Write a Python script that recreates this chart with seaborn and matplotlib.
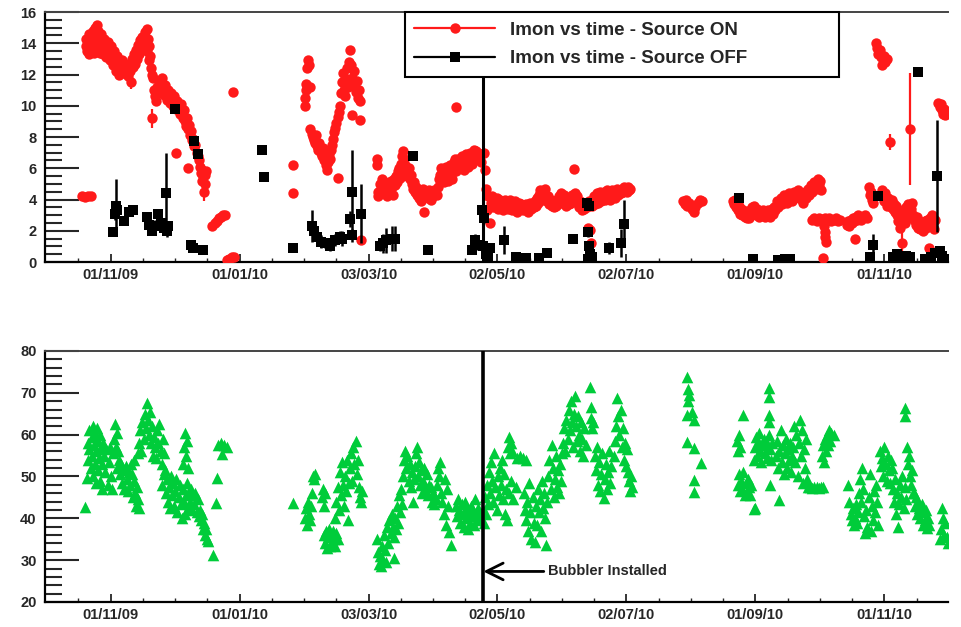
import numpy as np
import pandas as pd
import matplotlib
matplotlib.use("Agg")
import matplotlib.pyplot as plt
import matplotlib.dates as mdates
from matplotlib.ticker import FixedLocator, MultipleLocator
from matplotlib.lines import Line2D
import seaborn as sns

# ---------------- data (x = days since 2009-10-01) ----------------
START = pd.Timestamp("2009-10-01")
x_tick_dates = ["2009-11-01", "2010-01-01", "2010-03-03", "2010-05-02",
                "2010-07-02", "2010-09-01", "2010-11-01"]
x_limits = ["2009-10-01", "2010-12-01"]
bubbler_day = 206.5
legend_labels = ["Imon vs time - Source ON", "Imon vs time - Source OFF"]
annotation_text = "Bubbler Installed"

# Source ON: (day, Imon, error)
on_points = [
    (17.5, 4.2, 0), (19, 4.15, 0), (20.5, 4.2, 0), (21.5, 4.2, 0),
    (19.5, 13.8, 0), (19.5, 14.3, 0), (20, 13.5, 0), (20.5, 14.0, 0), (21, 14.6, 0), (21, 13.3, 0),
    (21.5, 13.9, 0), (22, 14.4, 0), (22, 13.6, 0), (22.5, 14.8, 0), (23, 14.2, 0), (23, 13.4, 0),
    (23.5, 15.0, 0), (24, 14.5, 0), (24, 13.7, 0), (24.5, 15.2, 0), (25, 14.8, 0), (25, 13.9, 0),
    (25.5, 14.3, 0), (26, 13.4, 0), (26.5, 14.6, 0), (27, 14.0, 0), (27.5, 13.3, 0), (28, 14.3, 0),
    (28.5, 13.7, 0), (29, 13.1, 0), (29.5, 14.1, 0), (30, 13.5, 0), (30.5, 12.9, 0), (31, 13.8, 0),
    (31.5, 13.2, 0), (32, 12.6, 0), (32.5, 13.5, 0), (33, 12.9, 0), (33.5, 12.2, 0), (34, 13.2, 0),
    (34.5, 12.6, 0), (35, 12.0, 0), (35.5, 12.8, 0), (36, 12.3, 0), (36.5, 12.9, 0), (37, 12.4, 0),
    (37.5, 12.1, 0), (38, 12.6, 0), (38.5, 12.3, 0), (39, 11.9, 0), (39.5, 12.7, 0), (40, 12.2, 0),
    (40.5, 11.5, 0.4), (41, 13.0, 0), (41.5, 12.5, 0), (42, 13.3, 0), (42.5, 12.7, 0), (43, 13.6, 0),
    (43.5, 13.0, 0), (44, 13.9, 0), (44.5, 13.3, 0), (45, 14.2, 0), (45.5, 13.6, 0), (46, 14.4, 0),
    (46.5, 13.8, 0), (47, 14.7, 0), (47.5, 14.0, 0), (48, 14.9, 0), (48, 13.5, 0), (48.5, 14.3, 0),
    (49, 13.8, 0), (49, 12.9, 0), (49.5, 13.2, 0), (50, 12.4, 0), (50.5, 12.0, 0), (51, 11.8, 0),
    (50.5, 9.2, 0.6), (51.5, 11.0, 0), (52, 10.6, 0), (52.5, 10.3, 0), (53, 11.2, 0), (53.5, 10.8, 0),
    (54, 11.6, 0), (54.5, 10.9, 0), (55, 11.8, 0), (55.5, 11.2, 0), (56, 10.7, 0), (56.5, 11.3, 0),
    (57, 10.8, 0), (57.5, 10.4, 0), (58, 11.0, 0), (58.5, 10.6, 0), (59, 10.2, 0), (59.5, 10.8, 0),
    (60, 10.5, 0), (60.5, 10.0, 0), (61, 10.6, 0), (61.5, 10.2, 0), (62, 9.8, 0), (62, 7.0, 0),
    (62.5, 10.3, 0), (63, 9.9, 0), (63.5, 9.5, 0), (64, 10.1, 0), (64.5, 9.6, 0), (65, 9.2, 0),
    (65.5, 9.7, 0), (66, 9.0, 0), (66.5, 8.7, 0), (67, 9.2, 0), (67.5, 6.0, 0), (67.5, 8.5, 0),
    (68, 8.8, 0), (68.5, 8.1, 0), (69, 8.4, 0), (69.5, 7.8, 0), (70, 7.9, 0), (70.5, 7.4, 0),
    (71, 7.5, 0), (71.5, 7.0, 0), (72, 6.8, 0), (72.5, 6.5, 0), (73, 6.1, 0), (73.5, 5.7, 0),
    (74, 5.9, 0), (74, 5.2, 0), (74.5, 5.5, 0), (75, 4.5, 0.6), (75.5, 5.6, 0), (75.5, 5.0, 0), (76, 5.8, 0),
    (79, 2.3, 0), (80, 2.5, 0), (81, 2.6, 0), (82, 2.8, 0), (83, 2.9, 0), (84, 3.0, 0), (85, 3.0, 0),
    (86, 0.1, 0), (87, 0.2, 0), (88, 0.3, 0), (89, 0.3, 0), (88.5, 10.9, 0),
    (117, 6.2, 0), (117, 4.4, 0),
    (122.5, 10.0, 0), (122.5, 10.5, 0), (123, 11.0, 0), (123, 11.4, 0), (123.5, 12.4, 0), (124, 12.9, 0),
    (124.5, 12.6, 0), (125, 11.2, 0), (125, 8.5, 0), (126, 8.2, 0), (126.5, 8.0, 0), (127, 7.8, 0),
    (127.5, 7.6, 0), (128, 8.1, 0), (128.5, 7.4, 0), (129, 7.2, 0), (129.5, 7.6, 0), (130, 7.0, 0),
    (130.5, 6.8, 0), (131, 7.3, 0), (131.5, 6.5, 0), (132, 6.8, 0), (132.5, 6.2, 0), (133, 5.9, 0),
    (133.5, 6.4, 0), (134, 6.9, 0), (134.5, 6.6, 0), (135, 7.2, 0), (135.5, 7.5, 0), (136, 7.9, 0),
    (136.5, 8.3, 0), (137, 8.6, 0), (137.5, 8.9, 0), (138, 9.3, 0), (138, 5.4, 0), (138.5, 9.6, 0),
    (139, 10.0, 0), (139.5, 10.8, 0), (140, 11.5, 0), (140.5, 12.1, 0), (141, 11.0, 0), (141.5, 10.6, 0),
    (142, 11.7, 0), (142.5, 12.4, 0), (143, 11.2, 0), (143.5, 12.8, 0), (144, 13.6, 0), (144.5, 12.6, 0),
    (145, 11.8, 0), (145, 9.4, 0), (145.5, 11.3, 0), (146, 12.2, 0), (146.5, 10.9, 0), (147, 11.6, 0),
    (147.5, 10.5, 0), (148, 11.0, 0), (148.5, 10.3, 0), (148.6, 9.1, 0), (149, 1.4, 0),
    (156.5, 6.6, 0), (156.5, 6.2, 0), (157, 4.5, 0), (157, 4.2, 0), (158, 5.0, 0), (158.5, 4.6, 0),
    (159, 5.3, 0), (159.5, 4.8, 0), (160, 4.4, 0), (160.5, 5.1, 0), (161, 4.7, 0), (161.5, 4.2, 0),
    (162, 5.0, 0), (162.5, 4.6, 0), (163, 5.2, 0), (163.5, 4.8, 0), (164, 4.3, 0), (164.5, 5.3, 0),
    (165, 4.9, 0), (165.5, 5.5, 0), (166, 5.1, 0), (166.5, 5.8, 0), (167, 6.0, 0), (167.5, 5.4, 0),
    (168, 6.3, 0), (168.5, 6.8, 0), (169, 7.1, 0), (169.5, 6.6, 0), (170, 6.2, 0), (170.5, 5.8, 0),
    (171, 5.5, 0), (171.5, 6.0, 0), (172, 5.3, 0), (172.5, 5.6, 0), (173, 5.0, 0), (173.5, 4.7, 0),
    (174, 5.1, 0), (174.5, 4.5, 0), (175, 4.8, 0), (175.5, 4.3, 0), (176, 4.6, 0), (176.5, 4.1, 0),
    (177, 4.5, 0), (177.5, 3.9, 0), (178, 4.3, 0), (178.5, 4.7, 0), (179, 3.2, 0), (179.5, 4.2, 0),
    (180, 4.5, 0), (180.5, 4.1, 0), (181, 4.6, 0), (181.5, 4.3, 0), (182, 4.0, 0), (182.5, 4.5, 0),
    (183, 4.2, 0), (183.5, 4.6, 0), (184, 4.4, 0), (185, 4.3, 0), (185.5, 4.8, 0), (186, 5.3, 0),
    (186.5, 5.6, 0), (187, 6.0, 0), (187.5, 5.4, 0), (188, 5.1, 0), (188.5, 5.7, 0), (189, 6.1, 0),
    (189.5, 5.5, 0), (190, 5.2, 0), (190.5, 5.8, 0), (191, 6.2, 0), (191.5, 5.6, 0), (192, 5.3, 0),
    (192.5, 5.9, 0), (193, 6.4, 0), (193.4, 6.6, 0), (193.8, 9.9, 0), (194, 5.8, 0), (194.5, 6.2, 0),
    (195, 6.6, 0), (195.5, 6.0, 0), (196, 6.4, 0), (196.5, 6.8, 0), (197, 6.2, 0), (197.5, 5.9, 0),
    (198, 6.5, 0), (198.5, 6.9, 0), (199, 6.4, 0), (199.5, 6.1, 0), (200, 6.7, 0), (200.5, 7.0, 0),
    (201, 6.6, 0), (201.5, 6.3, 0), (202, 6.9, 0), (202.5, 7.2, 0), (203, 6.8, 0), (203.5, 7.1, 0),
    (204, 6.6, 0), (204.5, 7.0, 0), (205, 6.8, 0), (205.5, 6.4, 0),
    (207, 7.0, 0), (207.5, 5.9, 0), (208, 4.7, 0), (208.5, 3.3, 0), (209, 4.2, 0), (210, 2.5, 0),
    (210.5, 3.8, 0), (211, 4.2, 0), (211.5, 3.5, 0), (212, 3.9, 0), (212.5, 3.6, 0), (213, 4.1, 0),
    (213.5, 3.4, 0), (214, 3.8, 0), (214.5, 4.0, 0), (215, 3.5, 0), (215.5, 3.9, 0), (216, 3.3, 0),
    (216.5, 3.7, 0), (217, 4.0, 0), (217.5, 3.6, 0), (218, 3.9, 0), (218.5, 3.4, 0), (219, 3.8, 0),
    (219.5, 4.0, 0), (220, 3.6, 0), (220.5, 3.3, 0), (221, 3.7, 0), (221.5, 3.9, 0), (222, 3.5, 0),
    (222.5, 3.2, 0), (223, 3.6, 0), (223.5, 3.8, 0), (224, 3.4, 0), (224.5, 3.7, 0), (225, 3.5, 0),
    (225.5, 3.3, 0), (226, 3.6, 0), (226.5, 3.4, 0), (227, 3.7, 0), (227.5, 3.5, 0), (228, 3.2, 0),
    (228.5, 3.6, 0), (229, 3.8, 0), (229.5, 3.4, 0), (230, 3.7, 0), (230.5, 3.5, 0), (231, 3.9, 0),
    (231.5, 3.6, 0), (232, 4.1, 0), (232.5, 3.8, 0), (233, 4.3, 0), (233.5, 4.6, 0), (234, 4.2, 0),
    (234.5, 4.5, 0), (235, 4.0, 0), (235.5, 4.4, 0), (236, 4.7, 0), (236.5, 4.1, 0), (237, 3.9, 0),
    (237.5, 4.2, 0), (238, 3.7, 0), (238.5, 4.0, 0), (239, 3.6, 0), (239.5, 3.9, 0), (240, 3.5, 0),
    (240.5, 3.8, 0), (241, 3.6, 0), (241.5, 4.0, 0), (242, 3.7, 0), (242.5, 4.2, 0), (243, 3.9, 0),
    (243.5, 4.4, 0), (244, 4.1, 0), (244.5, 3.8, 0), (245, 4.3, 0), (245.5, 3.9, 0), (246, 3.6, 0),
    (246.5, 4.0, 0), (247, 3.7, 0), (247.5, 4.1, 0), (248, 3.8, 0), (248.5, 4.3, 0), (249, 4.0, 0),
    (249.5, 5.95, 0), (250, 4.4, 0), (250.5, 3.9, 0), (251, 4.2, 0), (251.5, 3.8, 0), (252, 3.5, 0),
    (252.5, 3.9, 0), (253, 3.6, 0), (253.5, 3.3, 0), (254, 3.7, 0), (254.5, 3.4, 0), (255, 3.8, 0),
    (255.5, 3.5, 0), (256, 2.2, 0), (256.5, 3.9, 0), (257, 2.05, 0), (257.5, 1.2, 0), (258, 3.6, 0),
    (258.5, 3.9, 0), (259, 4.2, 0), (259.5, 3.7, 0), (260, 4.0, 0), (260.5, 4.4, 0), (261, 3.8, 0),
    (261.5, 4.1, 0), (262, 4.5, 0), (262.5, 3.9, 0), (263, 4.2, 0), (263.5, 4.5, 0), (264, 4.0, 0),
    (264.5, 4.3, 0), (265, 4.6, 0), (265.5, 4.1, 0), (266, 4.4, 0), (266.5, 4.0, 0), (267, 4.3, 0),
    (267.5, 4.6, 0), (268, 4.2, 0), (268.5, 4.5, 0), (269, 4.1, 0), (269.5, 4.4, 0), (270, 4.7, 0),
    (270.5, 4.3, 0), (271, 4.6, 0), (271.5, 4.4, 0), (272, 4.7, 0), (272.5, 4.5, 0), (273, 4.8, 0),
    (273.5, 4.6, 0), (274, 4.7, 0), (274.5, 4.5, 0), (275, 4.8, 0), (275.5, 4.6, 0), (276, 4.7, 0),
    (301, 3.9, 0), (302, 3.7, 0), (302.5, 4.0, 0), (303, 3.6, 0), (304, 3.8, 0), (305, 3.4, 0),
    (305.5, 3.6, 0), (306, 3.2, 0), (306.5, 3.5, 0), (308, 3.8, 0), (309, 4.0, 0), (310, 3.9, 0),
    (324.5, 3.9, 0), (325, 3.7, 0), (325.5, 4.0, 0), (326, 3.5, 0), (326.5, 3.8, 0), (327, 3.3, 0),
    (327.5, 3.6, 0), (328, 3.1, 0), (328.5, 3.4, 0), (329, 3.0, 0), (329.5, 3.3, 0), (330, 2.9, 0),
    (330.5, 3.2, 0), (331, 2.8, 0), (331.5, 3.1, 0), (332, 2.8, 0), (332.5, 3.3, 0), (333, 3.0, 0),
    (333.5, 3.5, 0), (334, 3.2, 0), (334.5, 3.6, 0), (335, 3.3, 0), (335.5, 3.0, 0), (336, 3.4, 0),
    (336.5, 3.1, 0), (337, 2.9, 0), (337.5, 3.2, 0), (338, 3.0, 0), (338.5, 3.3, 0), (339, 3.1, 0),
    (339.5, 2.9, 0), (340, 3.2, 0), (340.5, 3.0, 0), (341, 3.3, 0), (341.5, 3.1, 0), (342, 2.9, 0),
    (342.5, 3.2, 0), (343, 3.4, 0), (343.5, 3.1, 0), (344, 3.5, 0), (344.5, 3.3, 0), (345, 3.6, 0),
    (345.5, 3.9, 0), (346, 3.5, 0), (346.5, 3.8, 0), (347, 4.1, 0), (347.5, 3.7, 0), (348, 4.0, 0),
    (348.5, 4.3, 0), (349, 3.9, 0), (349.5, 4.2, 0), (350, 3.8, 0), (350.5, 4.1, 0), (351, 4.4, 0),
    (351.5, 4.0, 0), (352, 4.3, 0), (352.5, 3.9, 0), (353, 4.2, 0), (353.5, 4.5, 0), (354, 4.1, 0),
    (354.5, 4.4, 0), (355, 4.6, 0), (355.5, 4.3, 0), (356, 4.1, 0), (356.5, 4.4, 0), (357, 4.0, 0),
    (357.5, 3.8, 0), (358, 4.2, 0), (358.5, 4.5, 0), (359, 4.1, 0), (359.5, 4.4, 0), (360, 4.7, 0),
    (360.5, 4.3, 0), (361, 4.6, 0), (361.5, 4.9, 0), (362, 4.5, 0), (362.5, 4.8, 0), (363, 5.1, 0),
    (363.5, 4.7, 0), (364, 5.0, 0), (364.5, 5.3, 0), (365, 4.9, 0), (365.5, 5.2, 0), (366, 4.6, 0),
    (362, 2.7, 0), (363, 2.8, 0), (364, 2.6, 0), (365, 2.8, 0), (366, 2.7, 0), (367, 2.6, 0),
    (368, 2.8, 0), (369, 2.7, 0), (370, 2.8, 0), (371, 2.6, 0), (372, 2.7, 0), (373, 2.8, 0),
    (374, 2.6, 0), (375, 2.7, 0), (367.5, 2.3, 0), (367.8, 1.9, 0), (368, 1.6, 0), (368.3, 1.3, 0),
    (367, 0.25, 0),
    (378.5, 2.4, 0), (379, 2.6, 0), (379.5, 2.3, 0), (380, 2.7, 0), (380.5, 2.5, 0), (381, 2.8, 0),
    (381.5, 2.6, 0), (382, 1.5, 0), (382.5, 2.9, 0), (383, 2.7, 0), (383.5, 3.0, 0), (384, 2.8, 0),
    (384.5, 2.9, 0), (385, 2.7, 0), (386, 2.9, 0), (387, 3.0, 0), (388, 2.8, 0),
    (388.5, 4.8, 0), (389, 4.3, 0), (389.5, 4.5, 0), (390, 4.0, 0), (390.5, 3.8, 0),
    (392, 14.0, 0), (392.5, 13.7, 0), (393, 13.3, 0), (394, 13.6, 0), (394.5, 13.1, 0), (395, 12.6, 0),
    (396, 13.2, 0), (396.5, 12.8, 0), (397, 13.0, 0),
    (395, 4.6, 0), (395.5, 4.2, 0), (396, 3.9, 0), (396.5, 4.4, 0), (397, 3.6, 0), (397.5, 4.1, 0),
    (398, 3.8, 0), (398.5, 7.7, 0.5), (399, 3.5, 0), (399.5, 4.0, 0), (400, 3.4, 0), (400.5, 3.7, 0),
    (401, 3.2, 0), (401.5, 3.6, 0), (402, 3.0, 0), (402.5, 2.6, 0), (403, 3.3, 0), (403.5, 2.2, 0),
    (404, 2.8, 0), (404.5, 1.2, 0.9), (405, 3.1, 0), (405.5, 2.5, 0), (406, 3.5, 0), (406.5, 2.9, 0),
    (407, 3.7, 0), (407.5, 3.2, 0), (408, 8.5, 3.6), (408.5, 3.4, 0), (409, 3.8, 0), (409.5, 3.0, 0),
    (410, 2.7, 0), (411, 2.4, 0), (411.5, 2.9, 0), (412, 2.2, 0), (412.5, 2.6, 0), (413, 2.1, 0),
    (413.5, 2.5, 0), (414, 2.0, 0), (414.5, 2.4, 0), (415, 2.6, 0), (415.5, 2.2, 0), (416, 2.7, 0),
    (416.5, 2.3, 0), (417, 0.9, 0), (417.5, 2.8, 0), (418, 2.5, 0), (418.5, 3.0, 0), (419, 2.6, 0),
    (419.5, 2.1, 0), (420, 2.7, 0),
    (421.5, 10.2, 0), (422, 9.9, 0), (422.5, 10.1, 0), (423, 9.7, 0), (423.5, 9.5, 0), (424, 9.8, 0),
    (424.5, 9.4, 0), (425, 9.6, 0),
]

# Source OFF: (day, Imon, error)
off_points = [
    (32, 1.9, 0), (33.5, 3.6, 1.7), (33, 3.1, 0.4), (34, 3.3, 0.5), (37.5, 2.6, 0), (39.5, 3.2, 0),
    (41.5, 3.3, 0), (48, 2.9, 0.3), (49, 2.4, 0.3), (50.5, 2.0, 0.3), (52, 2.3, 0.4), (53.5, 3.1, 0),
    (54.5, 2.5, 0.4), (56, 2.2, 0.5), (57, 4.4, 2.6), (57.5, 2.0, 0.4), (58, 2.3, 0.3),
    (61.5, 9.8, 0), (70.5, 7.75, 0), (72, 6.9, 0), (69, 1.1, 0.3), (70, 0.9, 0.2), (74.5, 0.75, 0),
    (102.5, 7.2, 0), (103.5, 5.45, 0), (117, 0.9, 0),
    (126, 2.3, 1.0), (127, 2.0, 0.5), (128.5, 1.6, 0.5), (130, 1.3, 0.4), (132, 1.2, 0.3),
    (134.5, 1.0, 0.3), (137, 1.4, 0.4), (139, 1.6, 0.4), (140, 1.5, 0.5), (144, 2.75, 0.5),
    (145, 1.7, 0.4), (145, 4.5, 2.7), (149, 3.1, 1.9),
    (158, 1.0, 0.3), (159.5, 1.2, 0.6), (161, 1.4, 0.8), (163.5, 1.5, 0.8), (165, 1.5, 0.8),
    (173.5, 6.8, 0), (180.5, 0.75, 0), (201.5, 0.8, 0), (203, 1.4, 0.4), (204, 1.1, 0.3),
    (206, 3.3, 0.3), (207, 2.8, 0.3), (206.5, 1.0, 0.4), (208, 0.5, 0), (209, 0.3, 0), (210, 0.9, 0.3),
    (216.5, 1.4, 0.9), (222, 0.3, 0), (227, 0.25, 0), (233, 0.25, 0), (237, 0.6, 0.2), (249, 1.5, 0),
    (255.5, 3.8, 0), (256.5, 3.6, 0), (256, 1.9, 0.3), (256.5, 1.0, 0.3), (257, 0.5, 0), (256, 0.2, 0),
    (258, 0.3, 0), (266, 0.9, 0.4), (271.5, 1.2, 0.9), (273, 2.45, 1.5),
    (327.5, 4.1, 0), (334, 0.2, 0), (346, 0.1, 0), (349, 0.2, 0), (351.5, 0.2, 0),
    (389, 0.3, 0), (390.5, 1.1, 0.7), (393, 4.2, 0), (400, 0.3, 0), (402, 0.5, 0), (404, 0.2, 0),
    (406, 0.4, 0), (408, 0.3, 0), (412, 12.15, 0), (415, 0.2, 0), (418, 0.3, 0), (420, 0.6, 0.3),
    (421, 5.5, 3.6), (422, 0.7, 0.3), (423, 0.4, 0), (424, 0.2, 0),
]

# bottom panel series: (day, value)
gas_points = [
    (18.9, 42.7), (19.8, 49.6), (20.5, 58), (20.5, 54), (21, 61), (21, 56.5), (21.5, 52), (22, 59.5),
    (22, 55), (22.5, 62), (22.5, 50), (23, 57.5), (23.5, 60.5), (23.5, 53), (24, 48.5), (24, 56),
    (24.5, 61.5), (25, 58.5), (25, 51.5), (25.5, 54.5), (26, 60), (26, 49), (26.5, 56.5), (27, 53),
    (27, 47), (27.5, 58), (28, 55), (28.5, 51), (29, 56.5), (29.5, 48), (30, 53.5), (30.5, 57),
    (31, 50), (31.5, 47), (32, 55.5), (32.5, 59), (33, 62.5), (33.5, 57), (34, 60.5), (34.5, 56),
    (34, 52), (35, 54), (35.5, 50.5), (36, 53), (36.5, 48.5), (37, 51.5), (37.5, 47), (38, 52.5),
    (38.5, 49.5), (39, 46.5), (39.5, 51), (40, 48), (40.5, 53), (41, 50.5), (41.5, 45), (42, 49),
    (42.5, 46), (43, 43), (43.5, 47.5), (44, 44.5), (44.5, 42.5), (42, 54),
    (44, 55.5), (44.5, 58), (45, 61), (45.5, 56), (46, 63), (46.5, 59), (47, 65), (47.5, 61.5),
    (48, 67.5), (48.5, 63.5), (49, 60), (49.5, 65.5), (50, 58), (50.5, 62),
    (51, 55), (51.5, 59.5), (52, 57), (52.5, 54.5), (53, 61), (53.5, 58), (54, 62.5), (54.5, 56),
    (55, 53), (55.5, 59), (56, 55.5), (56.5, 51.5),
    (55, 48), (56, 50.5), (57, 46), (57.5, 49.5), (58, 44), (58.5, 47.5), (59, 42.5), (59.5, 50),
    (60, 45.5), (60.5, 48.5), (61, 43), (61.5, 46.5), (62, 49.5), (62.5, 41.5), (63, 45), (63.5, 48),
    (64, 43.5), (64.5, 40), (65, 47), (65.5, 44), (66, 41), (66.5, 45.5), (67, 48.5), (67.5, 42.5),
    (68, 46.5), (68.5, 44), (69, 47), (69.5, 42), (70, 45.5), (70.5, 43.5), (71, 46), (71.5, 41.5),
    (72, 44.5), (72.5, 40.5),
    (65, 53), (65.5, 57), (66, 60.5), (66.5, 55), (67, 58.5), (67.5, 52),
    (73, 42), (73.5, 39.5), (74, 41), (74.5, 37.5), (75, 39), (75.5, 36), (76, 37.5), (76.5, 35), (77, 34.5),
    (79.2, 31.2), (80.6, 43.7), (81.1, 49.6), (81.6, 57.5), (83, 58), (84.5, 57.5), (86, 57.0), (83.5, 55.3),
    (117, 43.7),
    (122.5, 40), (123, 42.5), (123.5, 38.5), (124, 44), (124.5, 41), (125, 39.5), (125.5, 43),
    (126, 46), (126.5, 50), (127, 49.5), (127.5, 50.5),
    (130.5, 45), (131, 47), (131.5, 43), (132, 46),
    (131.5, 36), (132, 34), (132.5, 37), (133, 33), (133.5, 35.5), (134, 37.5), (134.5, 33.5),
    (135, 36), (135.5, 34.5), (136, 37), (136.5, 35), (137, 33.5), (137.5, 36.5), (138, 35),
    (137, 40), (137.5, 44), (138, 47.5), (138.5, 42), (139, 51), (139.5, 45.5), (140, 53.5),
    (140.5, 48), (141, 43), (141.5, 50), (142, 46.5), (142.5, 54), (143, 39.5), (143.5, 48.5),
    (144, 52), (144.5, 55.5), (145, 49), (145.5, 57), (146, 53), (146.5, 58.5), (147, 50.5),
    (147.5, 54), (148, 47.5), (148.5, 45), (149, 44), (149.5, 46.5),
    (156.5, 35), (157, 32), (157.5, 29), (158, 31), (158.5, 28.5), (159, 33.5), (159.5, 30),
    (160, 36), (160.5, 32.5), (161, 29.5), (161.5, 38), (162, 34),
    (162.5, 39.5), (163, 36.5), (163.5, 41), (164, 38), (164.5, 35.5), (165, 40), (165.5, 37.5),
    (166, 43), (166.5, 39), (167, 45.5), (167.5, 41.5), (168, 47), (168.5, 43.5), (164.5, 30.5),
    (169, 50), (169.5, 54), (170, 56), (170.5, 52), (171, 55), (171.5, 49), (172, 53), (172.5, 47.5),
    (173, 51), (173.5, 44), (174, 49.5), (174.5, 52.5), (175, 55.5), (175.5, 57), (176, 50),
    (176.5, 53.5), (177, 48), (177.5, 51.5), (178, 46), (178.5, 49), (179, 52), (179.5, 47),
    (180, 50.5), (180.5, 45.5), (181, 48),
    (182, 47.5), (182.5, 44), (183, 46), (183.5, 43.5), (184, 45), (184.5, 44.5),
    (185, 48), (185.5, 52), (186, 50), (186.5, 53.5), (187, 46), (187.5, 44), (188, 41),
    (188.5, 49.5), (189, 38.5), (189.5, 47), (190, 43), (190.5, 36.8), (191.5, 33.6),
    (194, 43), (194.5, 40.5), (195, 44.5), (195.5, 42), (196, 39), (196.5, 43.5), (197, 41),
    (197.5, 38), (198, 44), (198.5, 40), (199, 42.5), (199.5, 37.5), (200, 41.5), (200.5, 39),
    (201, 43), (201.5, 40.5), (202, 42), (202.5, 38.5), (203, 44.5), (203.5, 41), (204, 39.5),
    (204.5, 42.5), (205, 40),
    (206.5, 42), (207, 39), (207.5, 45), (208, 41), (208.5, 48), (209, 43.5), (209.5, 51), (210, 46),
    (210.5, 53.5), (211, 49), (211.5, 44), (212, 55.5), (212.5, 47.5), (213, 42), (213.5, 50),
    (214, 45.5), (214.5, 52), (215, 48), (215.5, 54), (216, 44.5), (216.5, 50.5), (217, 41),
    (217.5, 47), (218, 39.5),
    (218.5, 57), (219, 59.5), (219.5, 55.5), (220, 58), (220.5, 56),
    (219, 46), (220, 49), (221, 44.5), (222, 47.5),
    (222.5, 54.5), (224, 55), (225.5, 54.5), (227, 54),
    (226, 46), (226.5, 42), (227, 39.5), (227.5, 44), (228, 37), (228.5, 48.5), (229, 41.5),
    (229.5, 35), (230, 45), (230.5, 39), (231, 34.3), (231.5, 43), (232, 38.5),
    (232.5, 47), (233, 41.5), (233.5, 44.5), (234, 37), (234.5, 49), (235, 42.5), (235.5, 46),
    (236, 40), (236.5, 33.6), (237, 44),
    (237.5, 50), (238, 54), (238.5, 47), (239, 57.5), (239.5, 52), (240, 45), (240.5, 49.5),
    (241, 55), (241.5, 47.5), (242, 51.5), (242.5, 46), (243, 53), (243.5, 49), (244, 55.5),
    (244.5, 58), (245, 61.5), (245.5, 56), (246, 63.5), (246.5, 59), (247, 66), (247.5, 61),
    (248, 68), (248.5, 63), (249, 57), (249.5, 65), (250, 69.2),
    (250.5, 62), (251, 58.5), (251.5, 64.5), (252, 60), (252.5, 56), (253, 63), (253.5, 59),
    (254, 55), (254.5, 61.5), (255, 57.5),
    (257, 71.4), (257.5, 66.5), (257.5, 64), (258, 61.5), (258.5, 63),
    (259.5, 55), (260, 51.5), (260.5, 57), (261, 48), (261.5, 53.5), (262, 46.5), (262.5, 50.5),
    (263, 55.5), (263.5, 44.9), (264, 49.5), (264.5, 53), (265, 47), (265.5, 51), (266, 56),
    (266.5, 48.5), (267, 52.5),
    (268.5, 55), (269, 58.5), (269.5, 62), (270, 68.8), (270.5, 64.5), (271, 60), (271.5, 66),
    (272, 57), (272.5, 61.5), (273, 54), (273.5, 58), (274, 52.5), (274.5, 56.5), (275, 51),
    (275.5, 49), (276, 46.5), (276.5, 50), (277, 47.5),
    (303, 73.8), (303.5, 71), (303.5, 68), (304, 69.5), (303, 64.7), (306, 63.5), (305, 65.5),
    (303, 58.2), (306, 56.8), (309.5, 53.2), (306, 49.2), (306, 46.3),
    (329.2, 64.7), (326.5, 58.5), (327, 56), (327.5, 60), (328, 57),
    (327, 48), (327.5, 50.5), (328, 46.5), (328.5, 49), (329, 47), (329.5, 51), (330, 45.5),
    (330.5, 48.5), (331, 46), (331.5, 49.5), (332, 47.5), (332.5, 45.5), (333, 48),
    (335, 42.5), (334.5, 42.3),
    (334.5, 54), (335, 57), (335.5, 59.5), (336, 55), (336.5, 58), (337, 60.5), (337.5, 56),
    (338, 53.5), (338.5, 57.5), (339, 59), (339.5, 55.5), (340, 58.5), (340.5, 54.5), (341, 57),
    (341.5, 60), (342, 56.5), (342.5, 54), (343, 58),
    (341.5, 71.2), (341.5, 69), (341.5, 64.7), (341.5, 63), (342, 48), (346.5, 44.4),
    (345, 55), (345.5, 58.5), (346, 52), (346.5, 56), (347, 61), (347.5, 53.5), (348, 57.5),
    (348.5, 50.5), (349, 55.5), (349.5, 59), (350, 52), (350.5, 56.5), (351, 54), (351.5, 58),
    (352, 51), (352.5, 55),
    (353, 57), (353.5, 62), (354, 53.5), (354.5, 60), (355, 50), (355.5, 58), (356, 63.5),
    (356.5, 55), (357, 61), (357.5, 48.5), (358, 56.5), (358.5, 52), (359, 59), (359.5, 49.5),
    (360, 47.5), (361, 47.5), (362, 47.3), (363, 47.5), (364, 47.5), (365, 47.3), (366, 47.5), (367, 47.5),
    (366.5, 55), (367, 57.5), (367.5, 53.5), (368, 59), (368.5, 56), (369, 60), (369.5, 57.5),
    (370, 61), (370.5, 58.5), (371, 60.5), (372, 60),
    (379, 48), (379.5, 44), (380, 41), (380.5, 39.5), (381, 42.5), (381.5, 38.5), (382, 40),
    (382.5, 43.5), (383, 39), (383.5, 41.5), (384, 46),
    (384.5, 49.5), (385, 44), (385.5, 52), (386, 47), (386.5, 40.5), (387, 36.5), (387.5, 42),
    (388, 38), (388.5, 45), (389, 50.5), (389.5, 37), (390, 43), (390.5, 39.5), (391, 46.5),
    (391.5, 41.5), (392, 48), (392.5, 44), (393, 38.5),
    (394, 56), (394.5, 52.5), (395, 54.5), (395.5, 50), (396, 57), (396.5, 53), (397, 49),
    (397.5, 55), (398, 51.5), (398.5, 48.5), (399, 54), (399.5, 52),
    (400, 47), (400.5, 44), (401, 49.5), (401.5, 41), (402, 46), (402.5, 38), (403, 43.5),
    (403.5, 48), (404, 45), (404.5, 50), (405, 42.5), (405.5, 47.5), (406, 44.5),
    (405.5, 66.4), (405.8, 64.5),
    (406.5, 57), (407, 53), (407.5, 55), (408, 50), (408.5, 48), (409, 51.5), (409.5, 46),
    (410, 46), (410.5, 43), (411, 45), (411.5, 41), (412, 44), (412.5, 42.5), (413, 40),
    (413.5, 43.5), (414, 38.5), (414.5, 41.5), (415, 39.5), (415.5, 42), (416, 37.7),
    (416.5, 40), (417, 38.5),
    (422, 35), (422.5, 37.5), (423, 42.5), (423.5, 40), (424, 36), (424.5, 39), (425.5, 35.5), (426, 34),
]

# ---------------- build frames ----------------
def frame(points, cols):
    df = pd.DataFrame(points, columns=cols)
    df["time"] = START + pd.to_timedelta(df["day"], unit="D")
    return df

on_df = frame(on_points, ["day", "val", "err"])
off_df = frame(off_points, ["day", "val", "err"])
gas_df = frame(gas_points, ["day", "val"])

# ---------------- style ----------------
sns.set_style("ticks")
plt.rcParams["font.family"] = ["Liberation Sans", "DejaVu Sans"]
plt.rcParams["font.weight"] = "bold"

RED = "#ff1a1a"
GREEN = "#00cc3a"

fig = plt.figure(figsize=(9.61, 6.27), dpi=100)
fig.patch.set_facecolor("white")
ax1 = fig.add_axes([0.0468, 0.5821, 0.9397, 0.3987])
ax2 = fig.add_axes([0.0468, 0.0399, 0.9397, 0.4003])

# ---- top panel ----
e_on = on_df[on_df["err"] > 0]
ax1.errorbar(e_on["time"], e_on["val"], yerr=e_on["err"], fmt="none",
             ecolor=RED, elinewidth=1.6, capsize=0, zorder=2)
sns.scatterplot(data=on_df, x="time", y="val", ax=ax1, color=RED, marker="o",
                s=56, linewidth=0, zorder=3, legend=False)
e_off = off_df[off_df["err"] > 0]
ax1.errorbar(e_off["time"], e_off["val"], yerr=e_off["err"], fmt="none",
             ecolor="black", elinewidth=1.8, capsize=0, zorder=4)
sns.scatterplot(data=off_df, x="time", y="val", ax=ax1, color="black", marker="s",
                s=42, linewidth=0, zorder=5, legend=False)

# ---- bottom panel ----
sns.scatterplot(data=gas_df, x="time", y="val", ax=ax2, color=GREEN, marker="^",
                s=70, linewidth=0, zorder=3, legend=False)

bubbler_time = START + pd.Timedelta(days=bubbler_day)
ax1.axvline(bubbler_time, color="black", lw=2.2, zorder=6)
ax2.axvline(bubbler_time, color="black", lw=2.6, zorder=6)

ax1.set_ylim(0, 16)
ax2.set_ylim(20, 80)

major_dates = pd.to_datetime(x_tick_dates)
major_num = mdates.date2num(major_dates)
step = np.diff(major_num).mean()
minor_num = []
for k in range(-2, len(major_num) * 4 + 2):
    v = major_num[0] + k * step / 4
    if k % 4 != 0:
        minor_num.append(v)
xmin, xmax = mdates.date2num(pd.to_datetime(x_limits))

for ax in (ax1, ax2):
    ax.set_xlim(xmin, xmax)
    ax.xaxis.set_major_locator(FixedLocator(major_num))
    ax.xaxis.set_minor_locator(FixedLocator([m for m in minor_num if xmin + 1 < m < xmax - 1]))
    ax.xaxis.set_major_formatter(mdates.DateFormatter("%d/%m/%y"))
    ax.set_xlabel("")
    ax.set_ylabel("")
    ax.spines["right"].set_visible(False)
    ax.spines["top"].set_color("#444444")
    ax.spines["top"].set_linewidth(1.4)
    for sp in ("left", "bottom"):
        ax.spines[sp].set_color("black")
        ax.spines[sp].set_linewidth(1.6)
    ax.tick_params(axis="y", which="major", direction="in", length=24.5, width=1.5,
                   pad=6, labelsize=10.5, left=True, right=False)
    ax.tick_params(axis="y", which="minor", direction="in", length=12, width=1.5,
                   left=True, right=False)
    ax.tick_params(axis="x", which="major", direction="in", length=5.5, width=1.3,
                   pad=4, labelsize=10.5, top=False, bottom=True)
    ax.tick_params(axis="x", which="minor", direction="in", length=3, width=1.0,
                   top=False, bottom=True)
    for lab in ax.get_xticklabels() + ax.get_yticklabels():
        lab.set_fontweight("bold")

ax1.yaxis.set_major_locator(MultipleLocator(2))
ax1.yaxis.set_minor_locator(MultipleLocator(0.5))
ax2.yaxis.set_major_locator(MultipleLocator(10))
ax2.yaxis.set_minor_locator(MultipleLocator(2))

# ---- legend ----
handles = [Line2D([0], [0], color=RED, lw=1.6, marker="o", markersize=7.5, markeredgewidth=0),
           Line2D([0], [0], color="black", lw=1.6, marker="s", markersize=6.5, markeredgewidth=0)]
leg = ax1.legend(handles, legend_labels, loc="upper left",
                 bbox_to_anchor=(0.3987, 1.0, 0.4806, 0.0), mode="expand",
                 borderaxespad=0, handlelength=4.3, handletextpad=0.8,
                 borderpad=0.5, labelspacing=0.62, fancybox=False,
                 edgecolor="black", framealpha=1,
                 prop=dict(family="Liberation Sans", weight="bold", size=13.5))
leg.get_frame().set_linewidth(1.5)
leg.set_zorder(10)

# ---- annotation ----
ax2.annotate(annotation_text,
             xy=(mdates.date2num(bubbler_time) + 0.3, 27.3),
             xytext=(mdates.date2num(START + pd.Timedelta(days=237.5)), 27.3),
             va="center", ha="left", fontsize=10.5, fontweight="bold",
             arrowprops=dict(arrowstyle="->,head_length=0.6,head_width=0.3",
                             color="black", lw=2, shrinkA=1, shrinkB=0,
                             mutation_scale=20))

fig.savefig("out.png", dpi=100, facecolor="white")
